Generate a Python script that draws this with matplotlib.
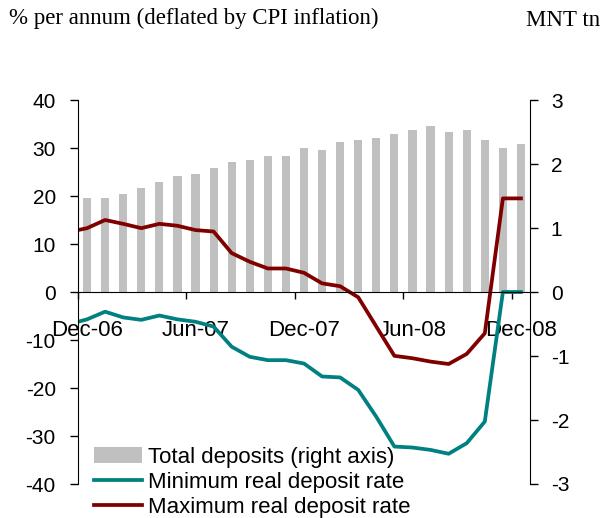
import numpy as np
import matplotlib
matplotlib.use("Agg")
import matplotlib.pyplot as plt

plt.rcParams['font.family'] = ['Liberation Sans', 'DejaVu Sans']
plt.rcParams['axes.unicode_minus'] = False

# monthly, Dec-06 .. Dec-08
months = ['Dec-06', 'Jan-07', 'Feb-07', 'Mar-07', 'Apr-07', 'May-07', 'Jun-07',
          'Jul-07', 'Aug-07', 'Sep-07', 'Oct-07', 'Nov-07', 'Dec-07', 'Jan-08',
          'Feb-08', 'Mar-08', 'Apr-08', 'May-08', 'Jun-08', 'Jul-08', 'Aug-08',
          'Sep-08', 'Oct-08', 'Nov-08', 'Dec-08']
tick_labels = ['Dec-06', 'Jun-07', 'Dec-07', 'Jun-08', 'Dec-08']

# total deposits, MNT tn (right axis)
deposits = [1.47, 1.47, 1.53, 1.62, 1.72, 1.81, 1.84, 1.94, 2.03, 2.06, 2.12, 2.12, 2.25,
            2.22, 2.34, 2.37, 2.41, 2.47, 2.53, 2.59, 2.50, 2.53, 2.37, 2.25, 2.31]

# real deposit rates, % per annum; first value is Nov-06 (cut at the axis)
min_rate = [-6.7, -5.7, -4.1, -5.3, -5.8, -4.9, -5.7, -6.2, -7.2, -11.4, -13.5, -14.2, -14.2,
            -14.9, -17.6, -17.8, -20.4, -26.0, -32.2, -32.4, -32.9, -33.7, -31.5, -27.0, 0.0, 0.0]
max_rate = [12.5, 13.3, 15.0, 14.2, 13.3, 14.2, 13.8, 12.9, 12.6, 8.1, 6.3, 4.9, 4.9,
            4.0, 1.8, 1.2, -1.1, -7.2, -13.3, -13.8, -14.5, -15.0, -12.9, -8.6, 19.5, 19.5]

teal = '#008080'
maroon = '#800000'
grey = '#C0C0C0'

fig = plt.figure(figsize=(6.03, 5.18), dpi=100)
ax = fig.add_axes([78 / 603, 34 / 518, 452 / 603, 384 / 518])
ax2 = ax.twinx()

x = np.arange(len(months))
xl = np.arange(-1, len(months))

ax2.bar(x, deposits, width=0.45, color=grey, label='Total deposits (right axis)')
ax.plot(xl, min_rate, color=teal, lw=2.7, label='Minimum real deposit rate')
ax.plot(xl, max_rate, color=maroon, lw=2.7, label='Maximum real deposit rate')

# lines above the bars
ax.set_zorder(ax2.get_zorder() + 1)
ax.patch.set_visible(False)

ax.set_xlim(-0.5, len(months) - 0.5)
ax.set_ylim(-40, 40)
ax2.set_ylim(-3, 3)

ax.set_yticks(range(-40, 41, 10))
ax2.set_yticks(range(-3, 4))

ax.spines['top'].set_visible(False)
ax.spines['right'].set_visible(False)
ax.spines['bottom'].set_position(('data', 0))
for s in ['top', 'left', 'bottom']:
    ax2.spines[s].set_visible(False)

ax.set_xticks([i - 0.5 for i in range(0, len(months), 6)])
ax.set_xticklabels([])
ax.set_xticks(range(0, len(months), 6), minor=True)
ax.set_xticklabels(tick_labels, minor=True)
ax.tick_params(axis='x', which='major', direction='out', length=5, width=1)
ax.tick_params(axis='x', which='minor', length=0, pad=20, labelsize=16)
ax.tick_params(axis='y', direction='out', length=6, width=1, pad=10, labelsize=15)
ax2.tick_params(axis='y', direction='out', length=6, width=1, pad=9, labelsize=15)

h1, l1 = ax2.get_legend_handles_labels()
h2, l2 = ax.get_legend_handles_labels()
ax.legend(h1 + h2, l1 + l2, loc='upper left', bbox_to_anchor=(94 / 603, 1 - 447 / 518),
          bbox_transform=fig.transFigure, frameon=False, fontsize=16,
          handlelength=2.15, handletextpad=0.28, labelspacing=0.18,
          borderpad=0, borderaxespad=0)

fig.text(9 / 603, 1 - 24 / 518, '% per annum (deflated by CPI inflation)',
         family='Liberation Serif', fontsize=16.5, va='baseline', ha='left')
fig.text(600 / 603, 1 - 26 / 518, 'MNT tn',
         family='Liberation Serif', fontsize=16.5, va='baseline', ha='right')

fig.savefig('out.png', dpi=100)
